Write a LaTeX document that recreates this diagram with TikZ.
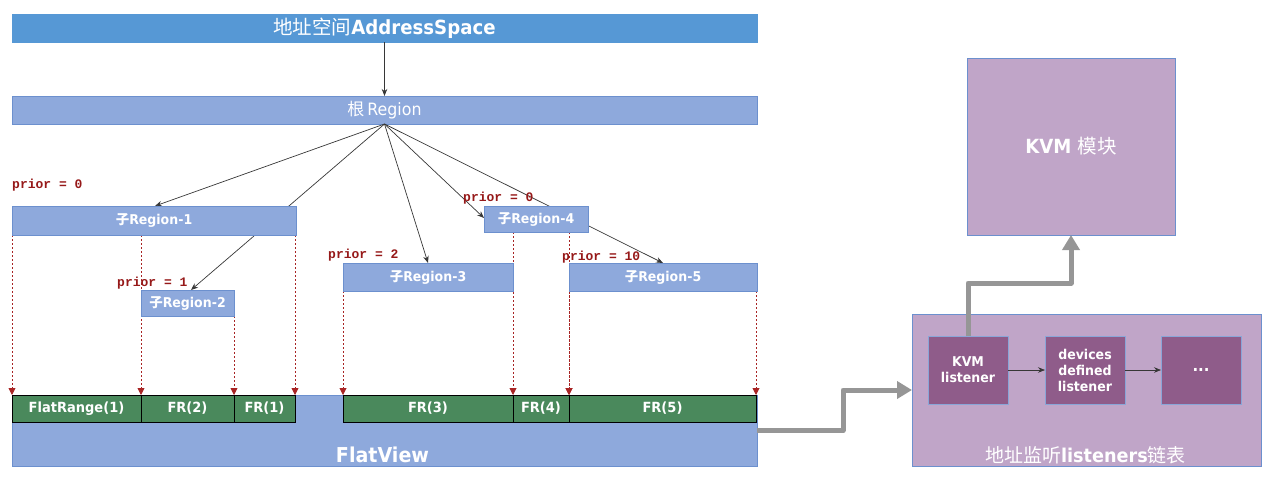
\documentclass[tikz,border=0pt]{standalone}
\usepackage{fontspec}
\setmainfont{DejaVu Sans}[FakeStretch=0.93]
\newfontfamily\cjk{Noto Sans CJK SC}
\newfontfamily\monof{Liberation Mono}
\usetikzlibrary{arrows.meta,calc}
\definecolor{asblue}{RGB}{86,152,213}
\definecolor{rgfill}{RGB}{142,169,220}
\definecolor{rgdraw}{RGB}{108,144,206}
\definecolor{frgreen}{RGB}{74,137,92}
\definecolor{lpurple}{RGB}{192,165,200}
\definecolor{dpurple}{RGB}{143,92,138}
\definecolor{priorred}{RGB}{150,25,25}
\definecolor{dashred}{RGB}{168,36,36}
\definecolor{grayarr}{RGB}{150,150,150}
\definecolor{thinarr}{RGB}{55,55,55}
\tikzset{
  box/.style={draw=rgdraw, line width=0.8pt, inner sep=0pt, outer sep=0pt, anchor=north west, text=white},
  rgbox/.style={box, fill=rgfill, font=\bfseries\fontsize{13.5}{15}\selectfont},
  frbox/.style={draw=black, line width=0.9pt, fill=frgreen, inner sep=0pt, outer sep=0pt, anchor=north west, minimum height=27pt, text=white, font=\bfseries\fontsize{14}{15}\selectfont},
  inbox/.style={box, fill=dpurple, draw=rgdraw!80!white, minimum width=80pt, minimum height=68pt, align=center, font=\bfseries\fontsize{13.5}{16}\selectfont},
  prior/.style={anchor=west, inner sep=0pt, text=priorred, font=\monof\bfseries\fontsize{13}{15}\selectfont},
  arr/.style={draw=thinarr, line width=0.7pt, -{Stealth[length=7pt,width=5.5pt]}},
  dl/.style={draw=dashred, line width=0.9pt, dash pattern=on 2pt off 2pt, -{Triangle[length=7pt,width=7pt]}},
  garr/.style={draw=grayarr, line width=5pt, line join=round, -{Triangle[length=15pt,width=17pt]}},
}
\begin{document}
\begin{tikzpicture}[x=1pt,y=-1pt]
\useasboundingbox (0,0) rectangle (1273,479);

% top bars
\node[box, fill=asblue, draw=asblue, minimum width=745pt, minimum height=28pt] (as) at (12,14)
  {{\cjk\fontsize{19.5}{21}\selectfont 地址空间}{\bfseries\fontsize{19.5}{21}\selectfont AddressSpace}};
\node[box, fill=rgfill, minimum width=745pt, minimum height=28pt] (root) at (12,96)
  {{\cjk\fontsize{17}{19}\selectfont 根} {\fontsize{17}{19}\selectfont Region}};
\draw[arr] (as.south) -- (root.north);

% FlatView
\node[box, fill=rgfill, minimum width=745pt, minimum height=71pt] (fv) at (12,395) {};
\node[inner sep=0pt, text=white, font=\bfseries\fontsize{20.5}{22}\selectfont] (fvl) at ($(fv.south)+(-2,-11)$) {FlatView};

% flat ranges
\node[frbox, minimum width=129pt] (f1) at (12,395) {FlatRange(1)};
\node[frbox, minimum width=93pt] (f2) at (141,395) {FR(2)};
\node[frbox, minimum width=61pt] (f3) at (234,395) {FR(1)};
\node[frbox, minimum width=170pt] (f4) at (343,395) {FR(3)};
\node[frbox, minimum width=56pt] (f5) at (513,395) {FR(4)};
\node[frbox, minimum width=187pt] (f6) at (569,395) {FR(5)};

% coordinates of region corners (for dashed lines, drawn first)
\coordinate (r1sw) at (12,235);
\coordinate (r1se) at (295,235);
\coordinate (r1m) at (141,235);
\coordinate (r2se) at (234,316);
\coordinate (r3sw) at (343,291);
\coordinate (r4sl) at (513,232);
\coordinate (r4sr) at (569,232);
\coordinate (r5sw) at (569,291);
\coordinate (r5se) at (756,291);

\draw[dl] (r1sw) -- (f1.north west);
\draw[dl] (r1m) -- (f2.north west);
\draw[dl] (r2se) -- (f3.north west);
\draw[dl] (r1se) -- (f3.north east);
\draw[dl] (r3sw) -- (f4.north west);
\draw[dl] (r4sl) -- (f5.north west);
\draw[dl] (r4sr) -- (f6.north west);
\draw[dl] (r5sw) -- (f6.north west);
\draw[dl] (r5se) -- (f6.north east);

% arrow targets
\coordinate (t1) at (155,206);
\coordinate (t2) at (191,290);
\coordinate (t3) at (428,263);
\coordinate (t4) at (484,218);
\coordinate (t5) at (663,263);
\draw[arr] (root.south) -- (t1);
\draw[arr] (root.south) -- (t2);
\draw[arr] (root.south) -- (t3);
\draw[arr] (root.south) -- (t4);
\draw[arr] (root.south) -- (t5);

% regions
\node[rgbox, minimum width=284pt, minimum height=29pt] (r1) at (12,206) {{\cjk 子}Region-1};
\node[rgbox, minimum width=93pt, minimum height=26pt] (r2) at (141,290) {{\cjk 子}Region-2};
\node[rgbox, minimum width=170pt, minimum height=28pt] (r3) at (343,263) {{\cjk 子}Region-3};
\node[rgbox, minimum width=104pt, minimum height=26pt] (r4) at (484,206) {{\cjk 子}Region-4};
\node[rgbox, minimum width=188pt, minimum height=28pt] (r5) at (569,263) {{\cjk 子}Region-5};

% prior labels
\node[prior] (p1) at (12,185) {prior = 0};
\node[prior] (p2) at (117,283) {prior = 1};
\node[prior] (p3) at (328,255) {prior = 2};
\node[prior] (p4) at (463,198) {prior = 0};
\node[prior] (p5) at (562,257) {prior = 10};

% right side
\node[box, fill=lpurple, minimum width=208pt, minimum height=177pt, font=\bfseries\fontsize{19.5}{21}\selectfont] (kvm) at (967,58)
  {KVM {\cjk\mdseries 模块}};
\node[box, fill=lpurple, minimum width=349pt, minimum height=152pt] (lst) at (912,314) {};
\node[inner sep=0pt, text=white, font=\fontsize{19}{20}\selectfont] (lstl) at ($(lst.south)+(-1,-11)$)
  {{\cjk 地址监听}{\bfseries listeners}{\cjk 链表}};
\node[inbox] (kl) at (928,336) {KVM\\listener};
\node[inbox] (dd) at (1045,336) {devices\\defined\\listener};
\node[inbox, font=\bfseries\fontsize{16}{16}\selectfont] (dots) at (1161,336) {...};
\draw[arr] (kl.east) -- (dd.west);
\draw[arr] (dd.east) -- (dots.west);

% thick gray connectors
\draw[garr] (fv.east) -- ($(fv.east)+(86,0)$) |- (lst.west);
\draw[garr] (kl.north) -- ($(kl.north)+(0,-53)$) -| (kvm.south);
\end{tikzpicture}
\end{document}
